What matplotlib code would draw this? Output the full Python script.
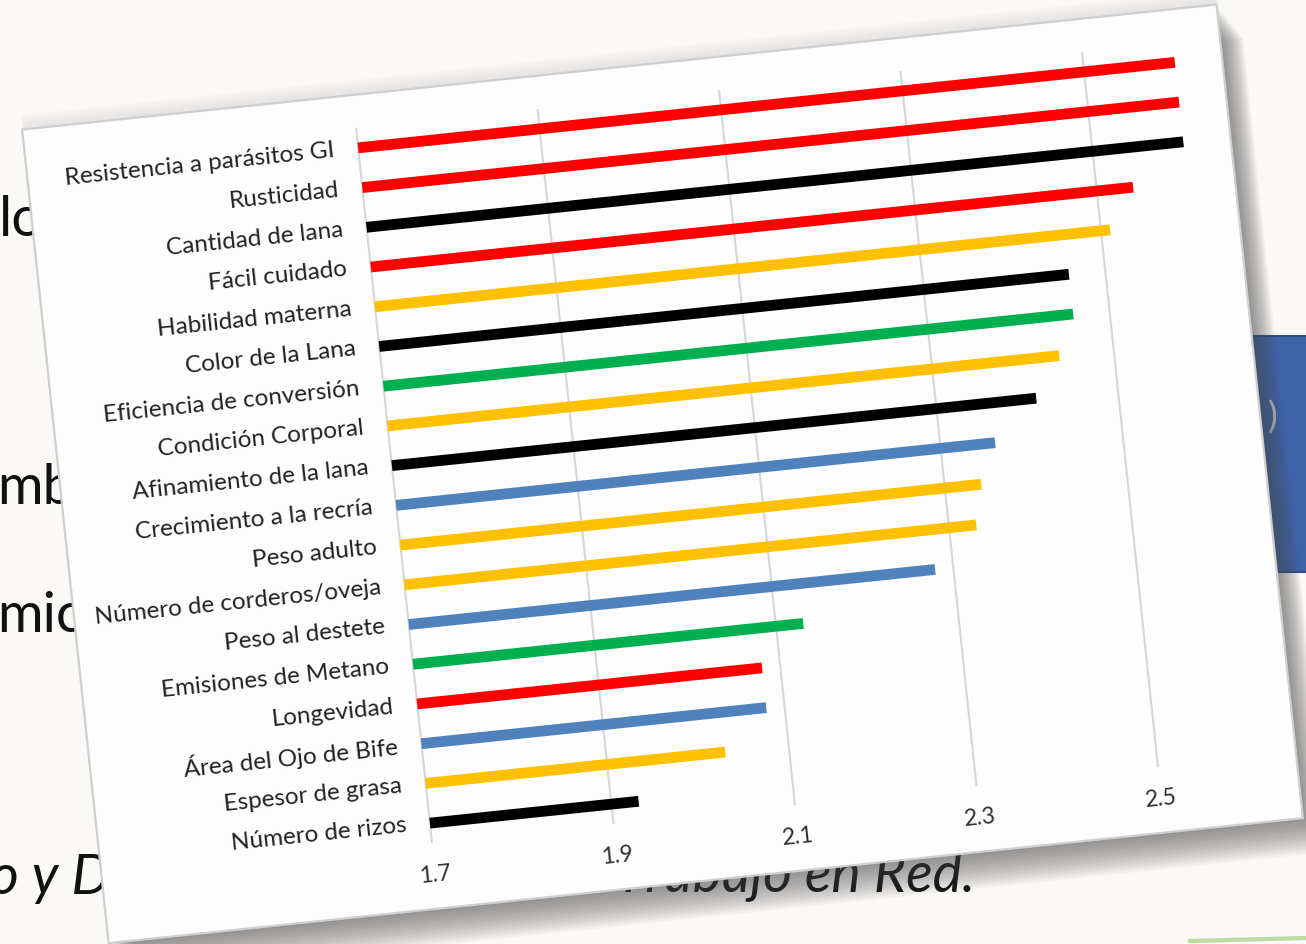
import matplotlib

matplotlib.use("Agg")
import matplotlib.pyplot as plt
import numpy as np
from matplotlib.patches import Polygon, Rectangle
from matplotlib.transforms import Affine2D

# Breed-trait scores, top to bottom as they appear in the chart.
categories = [
    "Resistencia a parásitos GI",
    "Rusticidad",
    "Cantidad de lana",
    "Fácil cuidado",
    "Habilidad materna",
    "Color de la Lana",
    "Eficiencia de conversión",
    "Condición Corporal",
    "Afinamiento de la lana",
    "Crecimiento a la recría",
    "Peso adulto",
    "Número de corderos/oveja",
    "Peso al destete",
    "Emisiones de Metano",
    "Longevidad",
    "Área del Ojo de Bife",
    "Espesor de grasa",
    "Número de rizos",
]
values = [2.60, 2.60, 2.60, 2.54, 2.51, 2.46, 2.46, 2.44, 2.41,
          2.36, 2.34, 2.33, 2.28, 2.13, 2.08, 2.08, 2.03, 1.93]
bar_colors = ["#FF0000", "#FF0000", "#000000", "#FF0000", "#FFC000",
              "#000000", "#00B050", "#FFC000", "#000000", "#4F81BD",
              "#FFC000", "#FFC000", "#4F81BD", "#00B050", "#FF0000",
              "#4F81BD", "#FFC000", "#000000"]
x_ticks = [1.7, 1.9, 2.1, 2.3, 2.5]
x_min = 1.7

W, H = 1306, 944
FONT = ["Lato", "DejaVu Sans"]
fig = plt.figure(figsize=(W / 100, H / 100), dpi=100)
fig.patch.set_facecolor("#FAF9F6")
ax = fig.add_axes([0, 0, 1, 1])
ax.set_xlim(0, W)
ax.set_ylim(H, 0)
ax.axis("off")

# chart frame -> slide pixels: value along x, category slot along y,
# the whole pasted chart sits tilted on the slide
n = len(categories)
sx, sy = 907.5, 715.0 / n
tilt = np.array([[sx, 76.0 / n, 356 - sx * x_min],
                 [-95.0, sy, 128 + 95.0 * x_min],
                 [0, 0, 1]])
chart = Affine2D(tilt) + ax.transData
angle = np.degrees(np.arctan2(95.0, sx))

# slide text sitting behind the chart
slide_font = dict(family=FONT, fontsize=40, color="#111111", zorder=1)
ax.text(-1, 220, "lo", va="center", **slide_font)
ax.text(-3, 488, "mbio", va="center", **slide_font)
ax.text(-3, 616, "mico", va="center", **slide_font)
ax.text(-10, 878, "o y Desarrollo", va="center", style="italic", **slide_font)
ax.text(975, 876, "Trabajo en Red.", va="center", ha="right", style="italic",
        **slide_font)
ax.add_patch(Rectangle((1215, 336), 120, 236, facecolor="#3F63A8",
                       edgecolor="#2F4F8A", lw=1.5, zorder=1))
ax.text(1268, 418, ")", color="#C8C8C8", fontsize=26, va="center",
        family=FONT, zorder=1)
ax.plot([1190, 1306], [941, 938], color="#B9DDA0", lw=3, zorder=1)

# panel shadow and panel
panel = [(1.336, -0.83), (2.652, -0.83), (2.652, 19.65), (1.336, 19.65)]
for k in range(6, 0, -1):
    halo = Affine2D().translate(0, -k * 2.5)
    ax.add_patch(Polygon(panel, closed=True, facecolor="#9A9A9A",
                         edgecolor="none", alpha=0.035,
                         transform=Affine2D(tilt) + halo + ax.transData,
                         zorder=2))
for k in range(14, 0, -1):
    shift = Affine2D().translate(k * 1.9, k * 2.4)
    ax.add_patch(Polygon(panel, closed=True, facecolor="#4A4A4A",
                         edgecolor="none", alpha=0.055,
                         transform=Affine2D(tilt) + shift + ax.transData,
                         zorder=2))
ax.add_patch(Polygon(panel, closed=True, facecolor="#FDFDFD",
                     edgecolor="#CFCFCF", lw=1.6, transform=chart, zorder=3))

# vertical gridlines (the first one doubles as the category axis)
for t in x_ticks:
    ax.plot([t, t], [0, n], color="#D6D6D6", lw=1.5, transform=chart,
            zorder=4, solid_capstyle="butt")
    ax.text(t, n + 0.8, f"{t:.1f}", transform=chart, rotation=angle,
            rotation_mode="anchor", ha="center", va="center", fontsize=16.5,
            color="#303030", family=FONT, zorder=6)

# bars
bar_h = 0.27
for i, (v, c) in enumerate(zip(values, bar_colors)):
    ax.add_patch(Rectangle((x_min, i + 0.5 - bar_h / 2), v - x_min, bar_h,
                           facecolor=c, edgecolor="none", transform=chart,
                           zorder=5))

# category labels
for i, name in enumerate(categories):
    ax.text(x_min - 0.026, i + 0.5, name, transform=chart, rotation=angle,
            rotation_mode="anchor", ha="right", va="center", fontsize=17.5,
            color="#222222", family=FONT, zorder=6)

fig.savefig("out.png", dpi=100, facecolor=fig.get_facecolor())
